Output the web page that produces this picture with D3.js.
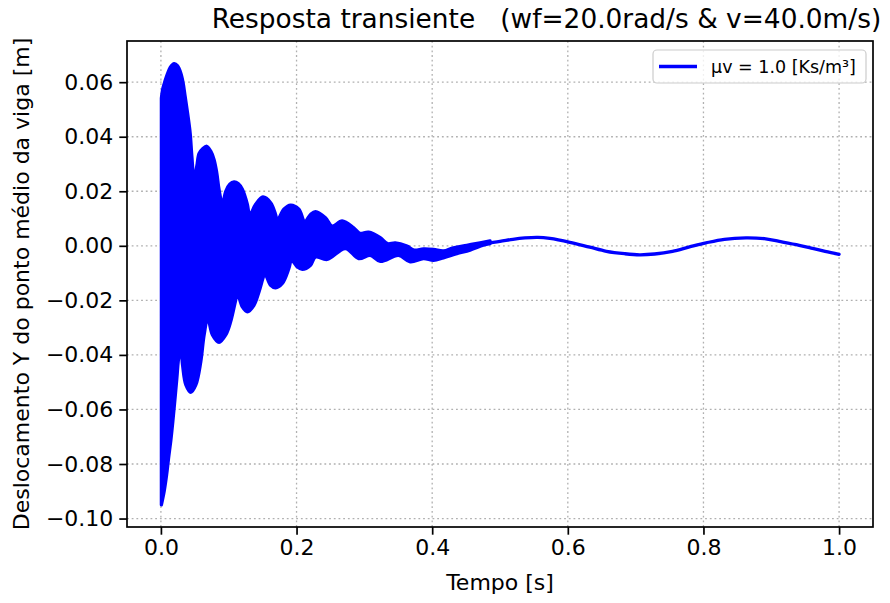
<!DOCTYPE html>
<html>
<head>
<meta charset="utf-8">
<script src="https://cdn.jsdelivr.net/npm/d3@7"></script>
<style>
  body { margin: 0; background: #fff; }
  svg { font-family: "DejaVu Sans", sans-serif; }
</style>
</head>
<body>
<svg width="890" height="603"></svg>
<script>
// fast oscillation is too dense to see, so keep its envelope (max / min)
var upperT = [0.0007, 0.0029, 0.0059, 0.0099, 0.0137, 0.0196, 0.0246, 0.0294, 0.0328, 0.0357,
  0.0393, 0.0431, 0.0456, 0.0490, 0.0529, 0.0563, 0.0613, 0.0676, 0.0735, 0.0784,
  0.0824, 0.0857, 0.0907, 0.0956, 0.1015, 0.1078, 0.1140, 0.1201, 0.1275, 0.1309,
  0.1397, 0.1504, 0.1618, 0.1691, 0.1716, 0.1813, 0.1912, 0.2034, 0.2122, 0.2206,
  0.2279, 0.2426, 0.2525, 0.2672, 0.2843, 0.2931, 0.3063, 0.3235, 0.3343, 0.3456,
  0.3628, 0.3735, 0.3872, 0.4019, 0.4166, 0.4313, 0.4510, 0.4706, 0.4853]
var upperY = [0.0541, 0.0577, 0.0603, 0.0632, 0.0654, 0.0668, 0.0660, 0.0633, 0.0597, 0.0548,
  0.0487, 0.0414, 0.0329, 0.0244, 0.0292, 0.0339, 0.0355, 0.0365, 0.0347, 0.0316,
  0.0267, 0.0207, 0.0153, 0.0200, 0.0226, 0.0234, 0.0228, 0.0207, 0.0152, 0.0113,
  0.0152, 0.0179, 0.0158, 0.0115, 0.0093, 0.0134, 0.0149, 0.0134, 0.0089, 0.0115,
  0.0125, 0.0103, 0.0072, 0.0091, 0.0066, 0.0046, 0.0050, 0.0030, 0.0008, 0.0011,
  -0.0001, -0.0016, -0.0011, -0.0013, -0.0019, -0.0007, 0.0002, 0.0011, 0.0018]

var lowerT = [0.0007, 0.0049, 0.0084, 0.0113, 0.0147, 0.0176, 0.0206, 0.0235, 0.0269, 0.0294,
  0.0319, 0.0368, 0.0441, 0.0515, 0.0588, 0.0637, 0.0691, 0.0760, 0.0857, 0.0956,
  0.1029, 0.1103, 0.1128, 0.1201, 0.1275, 0.1372, 0.1446, 0.1519, 0.1534, 0.1618,
  0.1691, 0.1790, 0.1887, 0.1926, 0.2010, 0.2084, 0.2206, 0.2279, 0.2451, 0.2721,
  0.2916, 0.3088, 0.3235, 0.3504, 0.3676, 0.3872, 0.4019, 0.4166, 0.4363, 0.4559,
  0.4754, 0.4853]
var lowerY = [-0.0950, -0.0899, -0.0840, -0.0778, -0.0712, -0.0644, -0.0565, -0.0486, -0.0401, -0.0388,
  -0.0437, -0.0510, -0.0537, -0.0510, -0.0425, -0.0327, -0.0266, -0.0327, -0.0354, -0.0327,
  -0.0278, -0.0199, -0.0175, -0.0224, -0.0242, -0.0218, -0.0169, -0.0108, -0.0102, -0.0145,
  -0.0154, -0.0138, -0.0083, -0.0053, -0.0077, -0.0086, -0.0071, -0.0041, -0.0050, -0.0010,
  -0.0047, -0.0035, -0.0057, -0.0035, -0.0059, -0.0047, -0.0053, -0.0044, -0.0029, -0.0016,
  0.0002, 0.0008]

// slow part once the fast one has died out
var tailT = [0.4750, 0.5000, 0.5191, 0.5368, 0.5559, 0.5735, 0.6029, 0.6324, 0.6569, 0.6838,
  0.7059, 0.7279, 0.7544, 0.7794, 0.8040, 0.8309, 0.8628, 0.8897, 0.9118, 0.9412,
  0.9607, 0.9794, 1.0000]
var tailY = [0.0007, 0.0016, 0.0024, 0.0029, 0.0031, 0.0027, 0.0013, -0.0005, -0.0020, -0.0029,
  -0.0033, -0.0030, -0.0020, -0.0004, 0.0011, 0.0024, 0.0029, 0.0026, 0.0016, 0.0002,
  -0.0009, -0.0020, -0.0031]

var xTicks = [0.0, 0.2, 0.4, 0.6, 0.8, 1.0]
var yTicks = [-0.10, -0.08, -0.06, -0.04, -0.02, 0.00, 0.02, 0.04, 0.06]

var titleText = 'Resposta transiente   (wf=20.0rad/s & v=40.0m/s)'
var xLabel = 'Tempo [s]'
var yLabel = 'Deslocamento Y do ponto médio da viga [m]'
var legendLabel = 'µv = 1.0 [Ks/m³]'

var svg = d3.select('svg')
var pL = 127, pR = 873, pT = 41, pB = 527
var blue = '#0000ff'
var lw = 3.3

var x = d3.scaleLinear().domain([-0.05, 1.05]).range([pL, pR])
var y = d3.scaleLinear().domain([-0.1031, 0.0751]).range([pB, pT])

// grid
var grid = svg.append('g')
  .attr('stroke', '#b0b0b0')
  .attr('stroke-width', 1.3)
  .attr('stroke-dasharray', '1.8,2.9')
grid.selectAll('.gx').data(xTicks).enter().append('line')
  .attr('x1', d => x(d)).attr('x2', d => x(d))
  .attr('y1', pT).attr('y2', pB)
grid.selectAll('.gy').data(yTicks).enter().append('line')
  .attr('x1', pL).attr('x2', pR)
  .attr('y1', d => y(d)).attr('y2', d => y(d))

// envelope band: upper edge forward, lower edge back, smooth between read points
var edge = d3.line().x(d => x(d[0])).y(d => y(d[1])).curve(d3.curveCatmullRom.alpha(0.5))
var up = upperT.map((t, i) => [t, upperY[i]])
var lo = lowerT.map((t, i) => [t, lowerY[i]]).reverse()
svg.append('path')
  .attr('d', edge(up) + edge(lo).replace('M', 'L') + 'Z')
  .attr('fill', blue)
  .attr('stroke', blue)
  .attr('stroke-width', lw)
  .attr('stroke-linejoin', 'round')

var tail = tailT.map((t, i) => [t, tailY[i]])
svg.append('path')
  .attr('d', d3.line().x(d => x(d[0])).y(d => y(d[1])).curve(d3.curveCatmullRom)(tail))
  .attr('fill', 'none')
  .attr('stroke', blue)
  .attr('stroke-width', lw)
  .attr('stroke-linecap', 'round')

// axes
svg.append('g')
  .attr('transform', 'translate(0,' + pB + ')')
  .call(d3.axisBottom(x).tickValues(xTicks).tickFormat(d3.format('.1f')).tickSizeInner(7.7).tickSizeOuter(0).tickPadding(5))
svg.append('g')
  .attr('transform', 'translate(' + pL + ',0)')
  .call(d3.axisLeft(y).tickValues(yTicks).tickFormat(d3.format('.2f')).tickSizeInner(7.7).tickSizeOuter(0).tickPadding(6))
svg.selectAll('.domain').remove()
svg.selectAll('.tick line').attr('stroke', '#000').attr('stroke-width', 1.7)
svg.selectAll('.tick text')
  .attr('font-family', '"DejaVu Sans", sans-serif')
  .attr('font-size', 22)
  .attr('fill', '#000')

svg.append('rect')
  .attr('x', pL).attr('y', pT)
  .attr('width', pR - pL).attr('height', pB - pT)
  .attr('fill', 'none')
  .attr('stroke', '#000')
  .attr('stroke-width', 1.7)

// labels
svg.append('text')
  .attr('x', 546.5).attr('y', 28)
  .attr('text-anchor', 'middle')
  .attr('font-size', 26.4)
  .style('white-space', 'pre')
  .text(titleText)
svg.append('text')
  .attr('x', (pL + pR) / 2).attr('y', 590)
  .attr('text-anchor', 'middle')
  .attr('font-size', 22)
  .text(xLabel)
svg.append('text')
  .attr('transform', 'translate(29,' + (pT + pB) / 2 + ') rotate(-90)')
  .attr('text-anchor', 'middle')
  .attr('font-size', 22)
  .text(yLabel)

// legend
var lg = svg.append('g')
lg.append('rect')
  .attr('x', 653).attr('y', 50).attr('width', 213).attr('height', 33)
  .attr('rx', 4)
  .attr('fill', '#fff').attr('fill-opacity', 0.8)
  .attr('stroke', '#cccccc').attr('stroke-width', 1.2)
lg.append('line')
  .attr('x1', 659).attr('x2', 697).attr('y1', 66.5).attr('y2', 66.5)
  .attr('stroke', blue).attr('stroke-width', lw)
lg.append('text')
  .attr('x', 711).attr('y', 73)
  .attr('font-size', 17.5)
  .text(legendLabel)
</script>
</body>
</html>
